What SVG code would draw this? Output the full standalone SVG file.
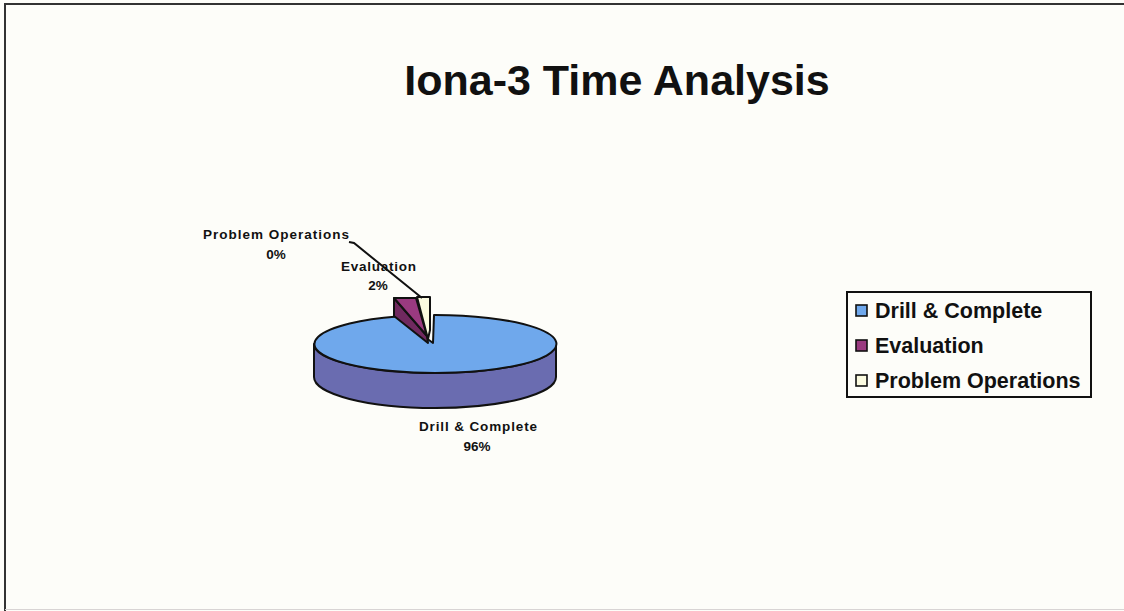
<svg xmlns="http://www.w3.org/2000/svg" width="1124" height="611" viewBox="0 0 1124 611">
  <style>
    .lbl { font-family: "Liberation Sans", Arial, sans-serif; font-weight: bold; fill: #111; }
    .pie-edge { stroke: #111; stroke-width: 2; stroke-linejoin: round; }
    .leader { fill: none; stroke: #111; stroke-width: 2; }
  </style>
  <!-- page background and frame -->
  <rect x="0" y="0" width="1124" height="611" fill="#fdfdf9"/>
  <path d="M5,611 V4 H1124" fill="none" stroke="#333" stroke-width="2"/>
  <line x1="5" y1="609.5" x2="1124" y2="609.5" stroke="#d8d4d4" stroke-width="1"/>

  <text class="lbl" x="617" y="95" font-size="43" text-anchor="middle" fill="#1a1a1a">Iona-3 Time Analysis</text>

  <!-- Drill & Complete slice -->
  <g id="slice-drill">
    <path class="pie-edge" fill="#6a6cb0" d="M314,344 V377 A121 31 0 0 0 556,377 V344 A121 29 0 0 1 314,344 Z"/>
    <path class="pie-edge" fill="#6fa8ec" d="M433,343 L434,315 A121 29 0 1 1 397,316.5 Z"/>
  </g>

  <!-- Evaluation slice (exploded) -->
  <g id="slice-evaluation">
    <path class="pie-edge" fill="#70295f" d="M394,298 L427,336 L428,343 L394,316 Z"/>
    <path class="pie-edge" fill="#9a3a80" d="M394,298 L416,298 L427,336 Z"/>
  </g>

  <!-- Problem Operations slice (exploded) -->
  <g id="slice-problem">
    <path class="pie-edge" fill="#fbfbe0" d="M417,297 L430,297 L430,330 L428,339 Z"/>
  </g>

  <!-- leader lines -->
  <g id="connectors">
    <path class="leader" d="M349,242 L354,243 L422,298"/>
  </g>

  <g id="label-problem">
    <text class="lbl" x="203" y="239" font-size="13.5" textLength="146" lengthAdjust="spacing">Problem Operations</text>
    <text class="lbl" x="276" y="259" font-size="13.5" text-anchor="middle">0%</text>
  </g>
  <g id="label-evaluation">
    <text class="lbl" x="341" y="271" font-size="13.5" textLength="75" lengthAdjust="spacing">Evaluation</text>
    <text class="lbl" x="378" y="290" font-size="13.5" text-anchor="middle">2%</text>
  </g>
  <g id="label-drill">
    <text class="lbl" x="419" y="431" font-size="13.5" textLength="118" lengthAdjust="spacing">Drill &amp; Complete</text>
    <text class="lbl" x="477" y="451" font-size="13.5" text-anchor="middle">96%</text>
  </g>

  <!-- legend -->
  <g id="legend">
    <rect x="847" y="292" width="244" height="105" fill="#fdfdf9" stroke="#111" stroke-width="2"/>
    <rect x="856" y="305" width="11" height="11" fill="#6fa8ec" stroke="#111" stroke-width="1.6"/>
    <rect x="856" y="340" width="11" height="11" fill="#9a3a80" stroke="#111" stroke-width="1.6"/>
    <rect x="856" y="375" width="11" height="11" fill="#fbfbe0" stroke="#111" stroke-width="1.6"/>
    <text class="lbl" x="875" y="318" font-size="21.5">Drill &amp; Complete</text>
    <text class="lbl" x="875" y="353" font-size="21.5">Evaluation</text>
    <text class="lbl" x="875" y="388" font-size="21.5">Problem Operations</text>
  </g>
</svg>
